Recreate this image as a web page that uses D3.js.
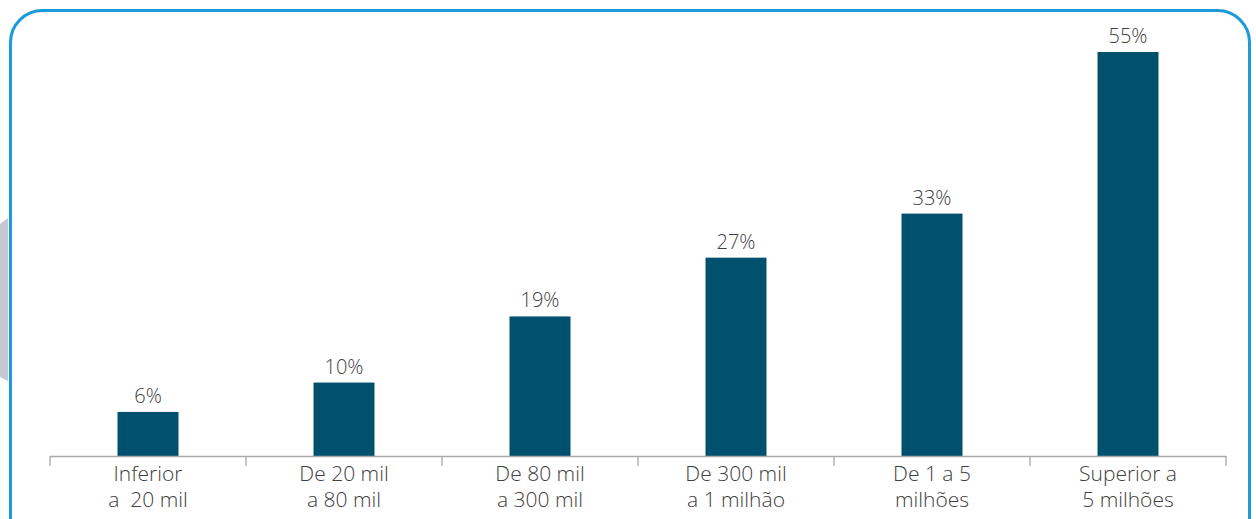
<!DOCTYPE html>
<html>
<head>
<meta charset="utf-8">
<script src="https://cdn.jsdelivr.net/npm/d3@7"></script>
<style>
  html, body { margin: 0; padding: 0; background: #fff; }
  svg { display: block; }
</style>
</head>
<body>
<svg id="chart" width="1256" height="519"></svg>
<script>
// Share by municipality population size
const categories = [
  ["Inferior", "a  20 mil"],
  ["De 20 mil", "a 80 mil"],
  ["De 80 mil", "a 300 mil"],
  ["De 300 mil", "a 1 milhão"],
  ["De 1 a 5", "milhões"],
  ["Superior a", "5 milhões"]
];
const values = [6, 10, 19, 27, 33, 55];
const valueLabels = ["6%", "10%", "19%", "27%", "33%", "55%"];

const svg = d3.select("#chart");

// Side tab peeking in from the left edge
svg.append("path")
  .attr("d", "M0,224 L8,218 L8,381 L0,377 Z")
  .attr("fill", "#c3c8d1");

// Rounded frame
svg.append("rect")
  .attr("x", 10.5).attr("y", 10.5)
  .attr("width", 1239).attr("height", 540)
  .attr("rx", 32).attr("ry", 32)
  .attr("fill", "none")
  .attr("stroke", "#1d9ad9")
  .attr("stroke-width", 3);

const x = d3.scaleBand()
  .domain(d3.range(categories.length))
  .range([50, 1226])
  .paddingInner(0).paddingOuter(0);

const y = d3.scaleLinear().domain([0, 55]).range([456, 52]);

const barW = 61;
const font = "'Open Sans', Lato, sans-serif";

// Bars
svg.append("g").selectAll("rect")
  .data(values)
  .join("rect")
  .attr("x", (d, i) => x(i) + x.bandwidth() / 2 - barW / 2)
  .attr("width", barW)
  .attr("y", d => y(d))
  .attr("height", d => y(0) - y(d))
  .attr("fill", "#00506e");

// Value labels
svg.append("g").selectAll("text")
  .data(values)
  .join("text")
  .attr("x", (d, i) => x(i) + x.bandwidth() / 2)
  .attr("y", d => y(d) - 9)
  .attr("text-anchor", "middle")
  .attr("font-family", font)
  .attr("font-weight", 300)
  .attr("font-size", 20)
  .attr("fill", "#404040")
  .text((d, i) => valueLabels[i]);

// Category axis with boundary ticks
const axisG = svg.append("g").attr("stroke", "#a9a9a9").attr("stroke-width", 1.3);
axisG.append("line")
  .attr("x1", x.range()[0]).attr("x2", x.range()[1])
  .attr("y1", y(0) + 0.5).attr("y2", y(0) + 0.5);
const bounds = d3.range(categories.length + 1).map(i => 50 + i * x.bandwidth());
axisG.selectAll("line.tick")
  .data(bounds)
  .join("line")
  .attr("class", "tick")
  .attr("x1", d => d).attr("x2", d => d)
  .attr("y1", y(0)).attr("y2", y(0) + 10);

// Category labels (two lines)
const cat = svg.append("g").selectAll("text")
  .data(categories)
  .join("text")
  .attr("x", (d, i) => x(i) + x.bandwidth() / 2)
  .attr("y", 481)
  .attr("text-anchor", "middle")
  .attr("font-family", font)
  .attr("font-weight", 300)
  .attr("font-size", 21)
  .attr("fill", "#404040");
cat.selectAll("tspan")
  .data(d => d)
  .join("tspan")
  .attr("x", function () { return d3.select(this.parentNode).attr("x"); })
  .attr("dy", (d, i) => i === 0 ? 0 : 26)
  .style("white-space", "pre")
  .text(d => d);
</script>
</body>
</html>
